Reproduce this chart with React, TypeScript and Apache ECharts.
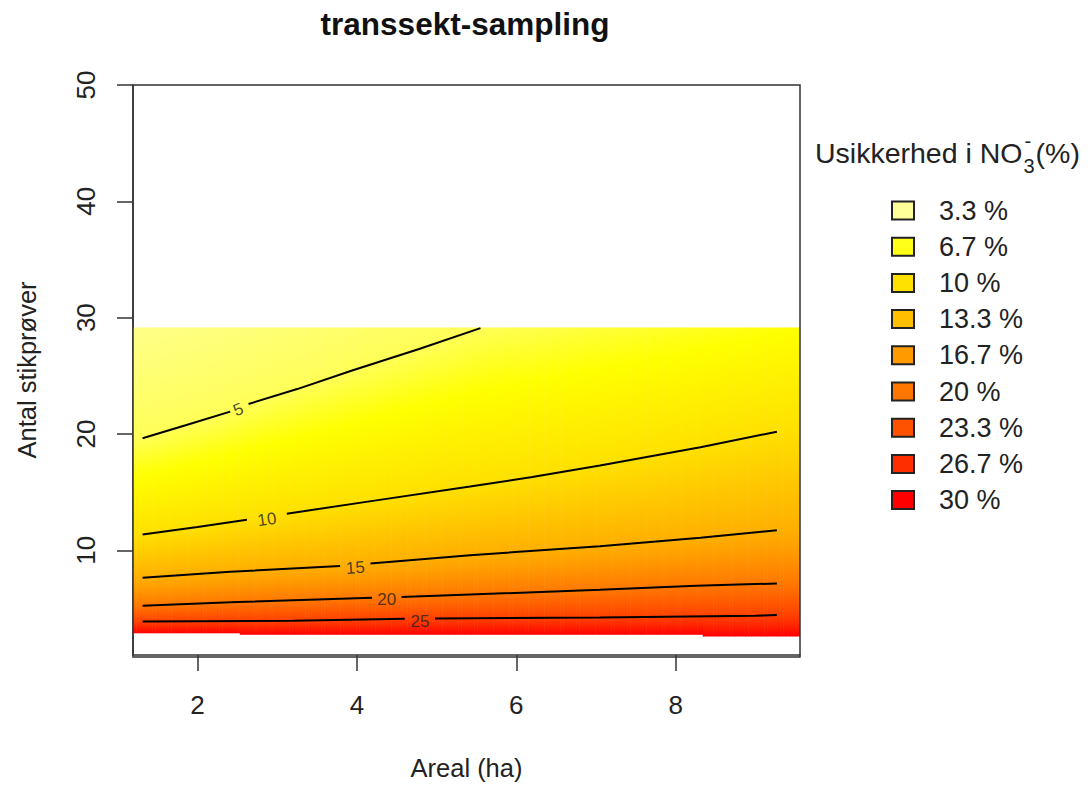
import React, { useEffect, useRef } from 'react';
import * as echarts from 'echarts';

const FONT = '"Liberation Sans", Arial, Helvetica, sans-serif';

const TITLE = 'transsekt-sampling';
const X_NAME = 'Areal (ha)';
const Y_NAME = 'Antal stikprøver';
const LEGEND_TITLE_MAIN = 'Usikkerhed i NO';
const LEGEND_TITLE_SUB = '3';
const LEGEND_TITLE_SUP = '-';
const LEGEND_TITLE_END = '(%)';

const xTicks = [2, 4, 6, 8];
const yTicks = [10, 20, 30, 40, 50];
const xRange = [1.19, 9.56];
const yRange = [1, 50];

// legend classes
const legendLabels = ['3.3 %', '6.7 %', '10 %', '13.3 %', '16.7 %', '20 %', '23.3 %', '26.7 %', '30 %'];
const legendColors = ['#FFFF99', '#FFFF1A', '#FFE100', '#FFBF00', '#FF9A00', '#FF7600', '#FF5200', '#FF2E00', '#FF0000'];

// continuous palette of the filled surface (value -> colour)
const fillValues = [3.3, 5, 7, 10, 13.3, 16.7, 20, 23.3, 26.7, 30];
const fillColors = ['#FFFF9C', '#FFFF58', '#FFFF00', '#FFE000', '#FFC000', '#FF9E00', '#FF7800', '#FF5400', '#FF2E00', '#FF0000'];

// contour levels and traced lines (segments split at the label gaps), [areal, antal]
const contourLevels = [5, 10, 15, 20, 25];
const contour5 = [
  [[1.31, 19.64], [1.85, 20.75], [2.41, 21.92]],
  [[2.64, 22.58], [3.25, 23.86], [3.93, 25.43], [4.78, 27.3], [5.55, 29.1]],
];
const contour10 = [
  [[1.31, 11.35], [2.0, 12.0], [2.62, 12.63]],
  [[3.12, 13.15], [4.2, 14.25], [5.42, 15.49], [6.2, 16.3], [7.05, 17.29], [8.31, 18.86], [9.27, 20.2]],
];
const contour15 = [
  [[1.31, 7.64], [2.41, 8.15], [3.79, 8.66]],
  [[4.17, 8.86], [5.42, 9.58], [7.05, 10.35], [8.31, 11.07], [9.27, 11.72]],
];
const contour20 = [
  [[1.31, 5.24], [2.5, 5.55], [4.19, 5.92]],
  [[4.56, 5.98], [5.42, 6.2], [7.05, 6.6], [8.26, 6.95], [9.27, 7.15]],
];
const contour25 = [
  [[1.31, 3.87], [3.2, 3.95], [4.6, 4.12]],
  [[4.98, 4.14], [7.05, 4.23], [9.0, 4.38], [9.27, 4.43]],
];
const contourLines = [contour5, contour10, contour15, contour20, contour25];
const contourLabelPos = [[2.51, 22.1], [2.87, 12.65], [3.98, 8.5], [4.375, 5.75], [4.79, 3.92]];
const contourLabelRot = [22, 8, 4, 0, 0];

// extent of the filled surface
const fillTop = 29.15;
const fillBottomSteps = [[1.19, 2.88], [2.53, 2.74], [8.34, 2.6]]; // [from areal, antal]
const topEdgeX = [1.19, 2, 3, 4, 5.55, 7, 8.3, 9.56];
const topEdgeValue = [3.8, 4.0, 4.3, 4.6, 5.0, 5.7, 6.3, 7.0];
const bottomValue = 30;

// ---------- helpers ----------
function hexRgb(h: string) {
  return [parseInt(h.slice(1, 3), 16), parseInt(h.slice(3, 5), 16), parseInt(h.slice(5, 7), 16)];
}
const fillRgb = fillColors.map(hexRgb);
function colorFor(v: number) {
  if (v <= fillValues[0]) return `rgb(${fillRgb[0].join(',')})`;
  const n = fillValues.length;
  if (v >= fillValues[n - 1]) return `rgb(${fillRgb[n - 1].join(',')})`;
  let i = 0;
  while (v > fillValues[i + 1]) i++;
  const t = (v - fillValues[i]) / (fillValues[i + 1] - fillValues[i]);
  const a = fillRgb[i], b = fillRgb[i + 1];
  return `rgb(${Math.round(a[0] + (b[0] - a[0]) * t)},${Math.round(a[1] + (b[1] - a[1]) * t)},${Math.round(a[2] + (b[2] - a[2]) * t)})`;
}
function interp(xs: number[], ys: number[], x: number) {
  if (x <= xs[0]) return ys[0];
  if (x >= xs[xs.length - 1]) return ys[ys.length - 1];
  let i = 0;
  while (x > xs[i + 1]) i++;
  const t = (x - xs[i]) / (xs[i + 1] - xs[i]);
  return ys[i] + (ys[i + 1] - ys[i]) * t;
}
function bottomAt(x: number) {
  let y = fillBottomSteps[0][1];
  for (const s of fillBottomSteps) if (x >= s[0]) y = s[1];
  return y;
}
const contourFlat = contourLines.map((segs) => segs.flat());

function measure(text: string, font: string) {
  const c = document.createElement('canvas').getContext('2d');
  if (!c) return text.length * 12;
  c.font = font;
  return c.measureText(text).width;
}

function renderFill(params: any, api: any) {
  const edges: number[] = [];
  const step = 0.04;
  for (let x = xRange[0]; x < xRange[1]; x += step) edges.push(x);
  edges.push(xRange[1]);
  fillBottomSteps.slice(1).forEach((s) => edges.push(s[0]));
  edges.sort((a, b) => a - b);
  const children: any[] = [];
  for (let i = 0; i < edges.length - 1; i++) {
    const xa = edges[i], xb = edges[i + 1];
    if (xb - xa < 1e-6) continue;
    const xm = (xa + xb) / 2;
    const topV = interp(topEdgeX, topEdgeValue, xm);
    const botY = bottomAt(xm);
    const anchors: { y: number; v: number }[] = [{ y: fillTop, v: topV }];
    contourLevels.forEach((lev, k) => {
      const pts = contourFlat[k];
      const last = pts[pts.length - 1];
      if (xm > last[0] && last[1] > fillTop - 0.3) return;
      const y = interp(pts.map((p) => p[0]), pts.map((p) => p[1]), xm);
      if (y < fillTop && y > botY && lev > topV) anchors.push({ y, v: lev });
    });
    anchors.push({ y: botY, v: bottomValue });
    const pTop = api.coord([xa, fillTop]);
    const pBot = api.coord([xb, botY]);
    const h = pBot[1] - pTop[1];
    const stops: any[] = [];
    for (let j = 0; j < anchors.length; j++) {
      const a = anchors[j];
      const off = (api.coord([xm, a.y])[1] - pTop[1]) / h;
      stops.push({ offset: Math.min(1, Math.max(0, off)), color: colorFor(a.v) });
      if (j < anchors.length - 1) {
        const b = anchors[j + 1];
        const offB = (api.coord([xm, b.y])[1] - pTop[1]) / h;
        fillValues.forEach((p) => {
          if (p > a.v && p < b.v) {
            const t = (p - a.v) / (b.v - a.v);
            stops.push({ offset: Math.min(1, Math.max(0, off + (offB - off) * t)), color: colorFor(p) });
          }
        });
      }
    }
    children.push({
      type: 'rect',
      shape: { x: pTop[0], y: pTop[1], width: pBot[0] - pTop[0] + 0.6, height: h },
      style: { fill: { type: 'linear', x: 0, y: 0, x2: 0, y2: 1, colorStops: stops }, stroke: null },
      silent: true,
    });
  }
  return { type: 'group', children };
}

export default function App() {
  const ref = useRef<HTMLDivElement>(null);
  useEffect(() => {
    document.body.style.margin = '0';
    if (!ref.current) return;
    const chart = echarts.init(ref.current, undefined, { renderer: 'svg' });

    const gridL = 133, gridT = 85, gridW = 667, gridH = 572;
    const titleFont = `bold 31.5px ${FONT}`;
    const titleW = measure(TITLE, titleFont);
    const ltFont = `28.5px ${FONT}`;
    const subFont = `20px ${FONT}`;
    const ltX = 815;
    const w1 = measure(LEGEND_TITLE_MAIN, ltFont);
    const wSub = measure(LEGEND_TITLE_SUB, subFont);
    const subX = ltX + w1 + 1;
    const endX = subX + wSub + 1;

    const lineSeries = contourLines.flatMap((segs, k) =>
      segs.map((seg, j) => ({
        type: 'line',
        name: `kontur ${contourLevels[k]} (${j + 1})`,
        data: seg,
        showSymbol: false,
        symbol: 'none',
        lineStyle: { color: '#000', width: 2 },
        z: 3,
        silent: true,
      }))
    );

    const legendSeries = legendLabels.map((n, i) => ({
      type: 'scatter',
      name: n,
      data: [],
      itemStyle: { color: legendColors[i], borderColor: '#222', borderWidth: 2, opacity: 1 },
    }));

    chart.setOption({
      animation: false,
      backgroundColor: '#fff',
      title: {
        text: TITLE,
        left: 465 - titleW / 2,
        top: 8,
        padding: 0,
        textStyle: { fontSize: 31.5, fontWeight: 'bold', color: '#111', fontFamily: FONT },
      },
      grid: { left: gridL, top: gridT, width: gridW, height: gridH, containLabel: false, show: false },
      xAxis: {
        type: 'value',
        min: xRange[0],
        max: xRange[1],
        name: X_NAME,
        nameLocation: 'middle',
        nameGap: 100,
        nameTextStyle: { fontSize: 25.5, color: '#222', fontFamily: FONT },
        axisLine: { show: true, lineStyle: { color: '#333', width: 1.5 } },
        axisTick: { show: true, length: 16, customValues: xTicks, lineStyle: { color: '#333', width: 1.5 } },
        axisLabel: { customValues: xTicks, fontSize: 26, color: '#222', fontFamily: FONT, margin: 37 },
        splitLine: { show: false },
      },
      yAxis: {
        type: 'value',
        min: yRange[0],
        max: yRange[1],
        name: Y_NAME,
        nameLocation: 'middle',
        nameRotate: 90,
        nameGap: 93,
        nameTextStyle: { fontSize: 25.5, color: '#222', fontFamily: FONT },
        axisLine: { show: true, lineStyle: { color: '#333', width: 1.5 } },
        axisTick: { show: true, length: 16, customValues: yTicks, lineStyle: { color: '#333', width: 1.5 } },
        axisLabel: { customValues: yTicks, rotate: 90, fontSize: 26, color: '#222', fontFamily: FONT, margin: 34 },
        splitLine: { show: false },
      },
      legend: {
        orient: 'vertical',
        left: 891,
        top: 197,
        padding: 0,
        itemWidth: 22,
        itemHeight: 18,
        itemGap: 9.2,
        icon: 'rect',
        selectedMode: false,
        textStyle: { fontSize: 27, color: '#222', fontFamily: FONT, padding: [4, 0, 0, 20] },
        data: legendLabels.map((n, i) => ({
          name: n,
          itemStyle: { color: legendColors[i], borderColor: '#222', borderWidth: 2, opacity: 1 },
        })),
      },
      graphic: [
        {
          type: 'rect',
          z: 100,
          silent: true,
          shape: { x: gridL, y: gridT, width: gridW, height: gridH },
          style: { fill: 'none', stroke: '#333', lineWidth: 1.5 },
        },
        {
          type: 'text',
          z: 100,
          x: ltX,
          y: 153,
          style: { text: LEGEND_TITLE_MAIN, font: ltFont, fill: '#222', verticalAlign: 'middle' },
        },
        {
          type: 'text',
          z: 100,
          x: subX,
          y: 166,
          style: { text: LEGEND_TITLE_SUB, font: subFont, fill: '#222', verticalAlign: 'middle' },
        },
        {
          type: 'text',
          z: 100,
          x: subX + 1,
          y: 141,
          style: { text: LEGEND_TITLE_SUP, font: subFont, fill: '#222', verticalAlign: 'middle' },
        },
        {
          type: 'text',
          z: 100,
          x: endX,
          y: 153,
          style: { text: LEGEND_TITLE_END, font: ltFont, fill: '#222', verticalAlign: 'middle' },
        },
      ],
      series: [
        {
          type: 'custom',
          name: 'flade',
          coordinateSystem: 'cartesian2d',
          data: [[xRange[0], fillTop]],
          renderItem: renderFill,
          clip: true,
          silent: true,
          z: 1,
        },
        ...lineSeries,
        {
          type: 'scatter',
          name: 'konturetiketter',
          symbolSize: 0,
          silent: true,
          z: 4,
          data: contourLabelPos.map((p, k) => ({
            value: p,
            label: { formatter: String(contourLevels[k]), rotate: contourLabelRot[k] },
          })),
          label: { show: true, position: 'inside', fontSize: 17, color: '#222', fontFamily: FONT },
        },
        ...legendSeries,
      ],
    });
    return () => chart.dispose();
  }, []);
  return <div ref={ref} style={{ width: 1092, height: 786 }} />;
}
